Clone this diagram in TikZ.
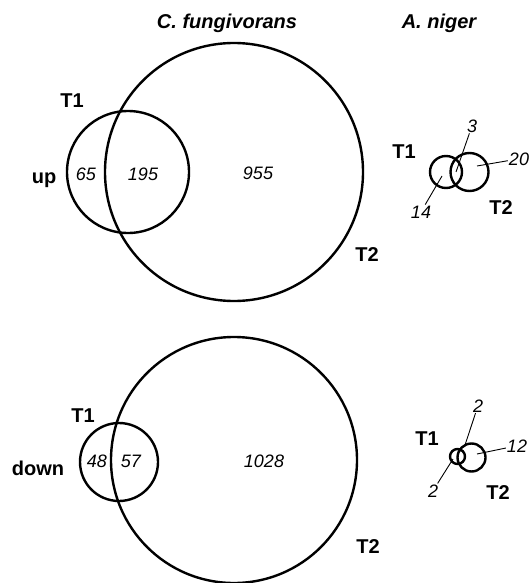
\documentclass[tikz,border=0pt]{standalone}
\usepackage{fontspec}
\setmainfont{Liberation Sans}
\usepackage{tikz}

\tikzset{
	venn/.style={line width=2.4pt},
	leader/.style={line width=0.9pt, shorten <=1pt},
	lab/.style={font=\fontsize{20}{24}\selectfont\bfseries, inner sep=0pt, anchor=base},
	ttl/.style={font=\fontsize{20}{24}\selectfont\bfseries\itshape, inner sep=0pt, anchor=base},
	num/.style={font=\fontsize{18}{22}\selectfont\itshape, inner sep=0pt, anchor=base}
}

\begin{document}
\begin{tikzpicture}[x=1pt, y=-1pt]
	\useasboundingbox (0,0) rectangle (530,583);
	
	\node[ttl] (cf) at (227,29) {C. fungivorans};
	\node[ttl] (an) at (439,29) {A. niger};
	
	% C. fungivorans, up
	\draw[venn] (128,172) circle (61pt);
	\draw[venn] (234,172) circle (129pt);
	\node[lab] (t1up) at (72,107) {T1};
	\node[lab] (t2up) at (367,261) {T2};
	\node[lab] (up) at (44,183) {up};
	\node[num] (a65) at (86,180) {65};
	\node[num] (a195) at (143,180) {195};
	\node[num] (a955) at (258,179) {955};
	
	% C. fungivorans, down
	\draw[venn] (119,462) circle (39pt);
	\draw[venn] (234,460) circle (123pt);
	\node[lab] (t1dn) at (83,422) {T1};
	\node[lab] (t2dn) at (368,553) {T2};
	\node[lab] (down) at (38,475) {down};
	\node[num] (b48) at (97,467) {48};
	\node[num] (b57) at (131,467) {57};
	\node[num] (b1028) at (264,467) {1028};
	
	% A. niger, up
	\draw[venn] (446,172) circle (16pt);
	\draw[venn] (469.5,172) circle (19pt);
	\node[lab] (nt1up) at (404,158) {T1};
	\node[lab] (nt2up) at (501,214) {T2};
	\node[num] (c3) at (472,132) {3};
	\node[num] (c20) at (519,165) {20};
	\node[num] (c14) at (421,218) {14};
	\coordinate (p3) at (456,172);
	\coordinate (p20) at (477,166);
	\coordinate (p14) at (442,176);
	\draw[leader] (c3) -- (p3);
	\draw[leader] (c20) -- (p20);
	\draw[leader] (c14) -- (p14);
	
	% A. niger, down
	\draw[venn] (457.5,456.5) circle (7.5pt);
	\draw[venn] (471.5,457.5) circle (14pt);
	\node[lab] (nt1dn) at (427,445) {T1};
	\node[lab] (nt2dn) at (498,499) {T2};
	\node[num] (d2a) at (478,412) {2};
	\node[num] (d12) at (517,452) {12};
	\node[num] (d2b) at (433,497) {2};
	\coordinate (q2a) at (465,445);
	\coordinate (q12) at (477,454);
	\coordinate (q2b) at (453,459);
	\draw[leader] (d2a) -- (q2a);
	\draw[leader] (d12) -- (q12);
	\draw[leader] (d2b) -- (q2b);
\end{tikzpicture}
\end{document}
